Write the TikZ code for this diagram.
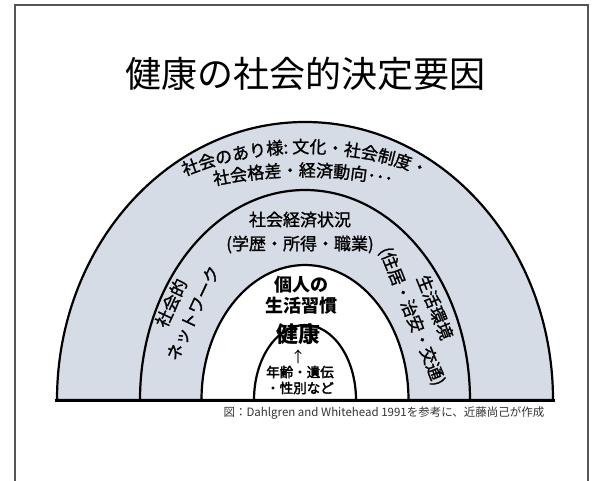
\documentclass[tikz,border=0pt]{standalone}
\usepackage{fontspec}
\newfontfamily\jp{Noto Sans CJK JP}
\newfontfamily\jpm[FakeBold=1.2]{Noto Sans CJK JP}
\newfontfamily\jpb[FakeBold=2.5]{Noto Sans CJK JP}
\usetikzlibrary{decorations.text}
\definecolor{band}{HTML}{D6DCE5}
\definecolor{framegray}{HTML}{555555}
\definecolor{capgray}{HTML}{333333}
\begin{document}
\begin{tikzpicture}[x=1pt,y=-1pt,
  ring/.style={draw=black,line width=2.2pt},
  bandtxt/.style={font=\jpm\fontsize{17}{24}\selectfont,align=center,inner sep=0pt},
  whitetxt/.style={font=\jp\bfseries\fontsize{18}{21}\selectfont,align=center,inner sep=0pt},
  smalltxt/.style={font=\jpb\fontsize{13.5}{16}\selectfont,align=center,inner sep=0pt},
  curvetxt/.style={decorate,decoration={text along path,text align=center,text={|\jpm\fontsize{17}{17}\selectfont|#1}}}]
\useasboundingbox (0,0) rectangle (597,480);
% frame
\draw[draw=framegray,line width=1.5pt] (15,490) -- (15,5) -- (588,5) -- (588,490);
% title
\node[font=\jp\fontsize{36}{36}\selectfont,inner sep=0pt] (title) at (305,74) {健康の社会的決定要因};
% rings
\filldraw[ring,fill=band] (57,400) arc[start angle=180,end angle=360,x radius=248,y radius=278] -- cycle;
\filldraw[ring,fill=band] (140,400) arc[start angle=180,end angle=360,x radius=165,y radius=210] -- cycle;
\filldraw[ring,fill=white] (201.5,400) arc[start angle=180,end angle=360,x radius=103.5,y radius=135] -- cycle;
\filldraw[ring,fill=white] (254,400) arc[start angle=180,end angle=360,x radius=51,y radius=75] -- cycle;
\draw[line width=3pt] (55,400) -- (555,400);
% outer band curved text
\path[curvetxt={社会のあり様: 文化・社会制度・}]
  (305,477) ++(240:324) arc[start angle=240,end angle=300,radius=324];
\path[curvetxt={社会格差・経済動向･･･}]
  (303,620) ++(255:443.5) arc[start angle=255,end angle=285,radius=443.5];
% second band
\node[bandtxt] (ses) at (300,232.5) {社会経済状況\\(学歴・所得・職業)};
\node[bandtxt,rotate=65] (net) at (182,308) {社会的\\ネットワーク};
\node[bandtxt,rotate=-68] (env) at (423,312) {生活環境\\(住居・治安・交通)};
% white band
\node[whitetxt] (life) at (301,295.5) {個人の\\生活習慣};
% inner
\node[font=\jp\bfseries\fontsize{22}{22}\selectfont,inner sep=0pt] (health) at (298,334) {健康};
\node[font=\jp\fontsize{15}{15}\selectfont,inner sep=0pt] (arrow) at (298,357) {↑};
\node[smalltxt] (age) at (300,380) {年齢・遺伝\\・性別など};
% caption
\node[font=\jp\fontsize{11.5}{11.5}\selectfont,text=capgray,inner sep=0pt] (cap) at (384,413) {図：Dahlgren and Whitehead 1991を参考に、近藤尚己が作成};
\end{tikzpicture}
\end{document}
